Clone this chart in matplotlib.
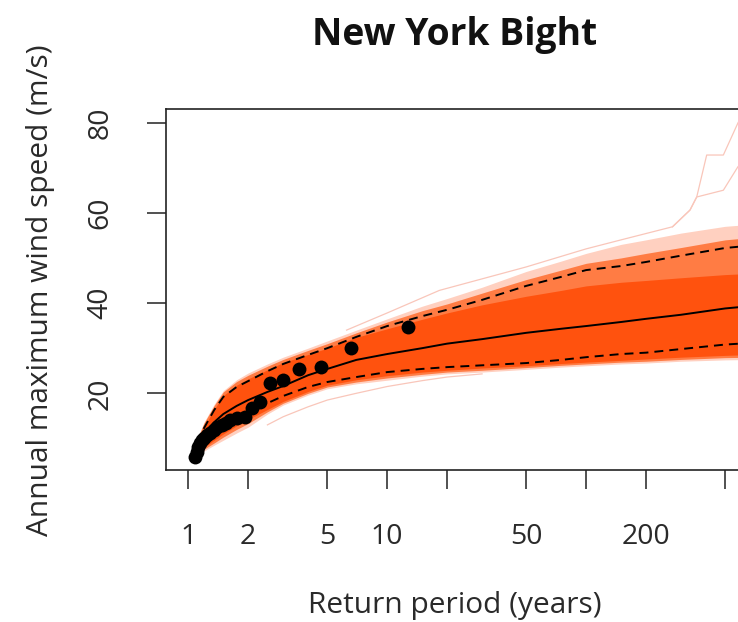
import numpy as np
import matplotlib
matplotlib.use("Agg")
import matplotlib.pyplot as plt

# ---------------- data ----------------
T_grid = [1.1, 1.2, 1.35, 1.5, 1.75, 2, 2.5, 3, 4, 5, 7, 10, 15, 20, 30,
          50, 75, 100, 150, 200, 300, 500, 700]
median = [8.5, 11.2, 13.6, 15.4, 17.2, 18.5, 20.3, 21.6, 24.0, 25.4, 27.4,
          28.7, 30.0, 31.0, 32.0, 33.4, 34.3, 34.9, 35.8, 36.5, 37.4, 38.8, 39.4]
upper_ci = [9.2, 12.3, 16.3, 19.2, 21.4, 22.7, 24.9, 26.5, 28.5, 30.0, 32.5,
            34.9, 37.1, 38.5, 40.7, 43.8, 45.8, 47.3, 48.2, 49.1, 50.5, 52.2, 52.8]
lower_ci = [7.0, 8.5, 10.5, 12.3, 14.3, 15.9, 17.8, 19.4, 21.4, 22.5, 23.6,
            24.7, 25.4, 25.8, 26.2, 26.7, 27.4, 28.0, 28.7, 29.0, 29.8, 30.8, 31.2]
# ensemble spread: faint outer envelope, medium envelope, dense core
ens_outer_hi = [9.6, 13.6, 17.6, 20.6, 23.0, 24.5, 26.5, 28.0, 30.0, 31.6, 34.0,
                36.5, 39.3, 41.0, 43.5, 47.0, 49.3, 51.0, 53.0, 54.0, 55.5, 57.0, 57.5]
ens_outer_lo = [6.3, 7.2, 8.5, 9.6, 11.2, 12.5, 15.4, 17.4, 19.6, 21.0, 22.1,
                22.9, 23.8, 24.3, 24.7, 25.3, 25.8, 26.1, 26.5, 26.7, 27.1, 27.4, 27.5]
ens_mid_hi = [9.5, 13.4, 17.3, 20.3, 22.6, 24.0, 26.0, 27.5, 29.5, 31.0, 33.4,
              35.8, 38.3, 39.8, 42.2, 45.2, 47.3, 48.8, 50.0, 51.0, 52.3, 54.0, 54.6]
ens_mid_lo = [6.5, 7.6, 9.0, 10.3, 12.0, 13.3, 15.9, 17.8, 20.0, 21.4, 22.5,
              23.4, 24.2, 24.7, 25.1, 25.7, 26.2, 26.5, 26.9, 27.1, 27.5, 27.9, 28.0]
ens_core_hi = [9.0, 12.5, 16.5, 19.5, 21.8, 23.2, 25.2, 26.8, 28.6, 30.0, 32.4,
               34.3, 36.4, 37.8, 39.6, 41.5, 42.8, 43.8, 44.6, 45.0, 45.6, 46.3, 46.6]
ens_core_lo = [6.8, 8.0, 9.6, 11.0, 12.8, 14.2, 16.4, 18.2, 20.4, 21.8, 23.0,
               23.9, 24.7, 25.1, 25.6, 26.1, 26.6, 26.9, 27.3, 27.6, 28.0, 28.4, 28.6]

# outlying ensemble members
outA_T = [6.25, 10, 18.3, 50, 100, 150, 272, 333, 360, 404, 490, 580, 650]
outA_v = [34.0, 37.8, 42.8, 48.0, 52.0, 54.0, 56.9, 60.6, 63.5, 72.8, 72.8, 79.9, 84.0]
outB_T = [272, 333, 360, 490, 580, 650]
outB_v = [56.9, 60.6, 63.5, 65.0, 70.2, 72.0]
outC_T = [2.5, 3, 4, 5, 7, 10, 15, 20, 30]
outC_v = [13.0, 14.8, 17.0, 18.5, 20.0, 21.5, 22.8, 23.6, 24.3]

# observed annual maxima (return period, speed)
T_obs = [1.08, 1.10, 1.12, 1.14, 1.17, 1.20, 1.24, 1.29, 1.34, 1.40, 1.47,
         1.54, 1.62, 1.75, 1.93, 2.08, 2.29, 2.58, 3.00, 3.61, 4.63, 6.58, 12.7]
v_obs = [5.9, 7.0, 8.2, 9.0, 9.7, 10.2, 10.8, 11.3, 11.9, 12.5, 13.0,
         13.5, 14.1, 14.5, 14.8, 16.7, 18.1, 22.2, 23.0, 25.3, 25.9, 30.0, 34.8]

xticks = [1, 2, 5, 10, 20, 50, 100, 200, 500]
xticklabels = ["1", "2", "5", "10", "", "50", "", "200", ""]
yticks = [20, 40, 60, 80]

title = "New York Bight"
xlabel = "Return period (years)"
ylabel = "Annual maximum wind speed (m/s)"

# ---------------- figure ----------------
plt.rcParams['font.family'] = ['Open Sans', 'DejaVu Sans']
W, H = 738, 622
fig = plt.figure(figsize=(W / 100, H / 100), dpi=100)
ax = fig.add_axes([166 / W, 1 - 470 / H, (744 - 166) / W, (470 - 109) / H])

ax.fill_between(T_grid, ens_outer_lo, ens_outer_hi, color='#FFD0C0', lw=0, zorder=1)
ax.fill_between(T_grid, ens_mid_lo, ens_mid_hi, color='#FF7C44', lw=0, zorder=1.3)
ax.fill_between(T_grid, ens_core_lo, ens_core_hi, color='#FF520E', lw=0, zorder=2)
for tt, vv in [(outA_T, outA_v), (outB_T, outB_v), (outC_T, outC_v)]:
    ax.plot(tt, vv, color='#F9C6BA', lw=0.9, zorder=1.5)

ax.plot(T_grid, median, color='black', lw=1.4, zorder=4)
for ci in (upper_ci, lower_ci):
    ax.plot(T_grid, ci, color='black', lw=1.4, dashes=(4.6, 3.1), zorder=4)

ax.plot(T_obs, v_obs, 'o', color='black', ms=10, mew=0, zorder=5)

ax.set_xscale('log')
ax.set_xlim(10 ** -0.112, 10 ** 2.794)
ax.set_ylim(3, 83)
ax.set_xticks(xticks)
ax.set_xticklabels(xticklabels)
ax.xaxis.set_minor_locator(matplotlib.ticker.NullLocator())
ax.set_yticks(yticks)
ax.set_yticklabels([str(y) for y in yticks], rotation=90, va='center')

for s in ax.spines.values():
    s.set_linewidth(1.2)
    s.set_color('#222222')
ax.tick_params(axis='both', length=14, width=1.2, color='#333333',
               labelsize=20.5, labelcolor='#2a2a2a')
ax.tick_params(axis='x', pad=24)
ax.tick_params(axis='y', pad=23)

fig.text(455 / W, 1 - 35 / H, title, ha='center', va='center',
         fontsize=26.8, fontweight='bold', color='#111111')
fig.text(455 / W, 1 - 605 / H, xlabel, ha='center', va='center',
         fontsize=21.5, color='#2a2a2a')
fig.text(41 / W, 1 - 290 / H, ylabel, ha='center', va='center',
         rotation=90, fontsize=21.5, color='#2a2a2a')

fig.savefig('out.png', dpi=100)
